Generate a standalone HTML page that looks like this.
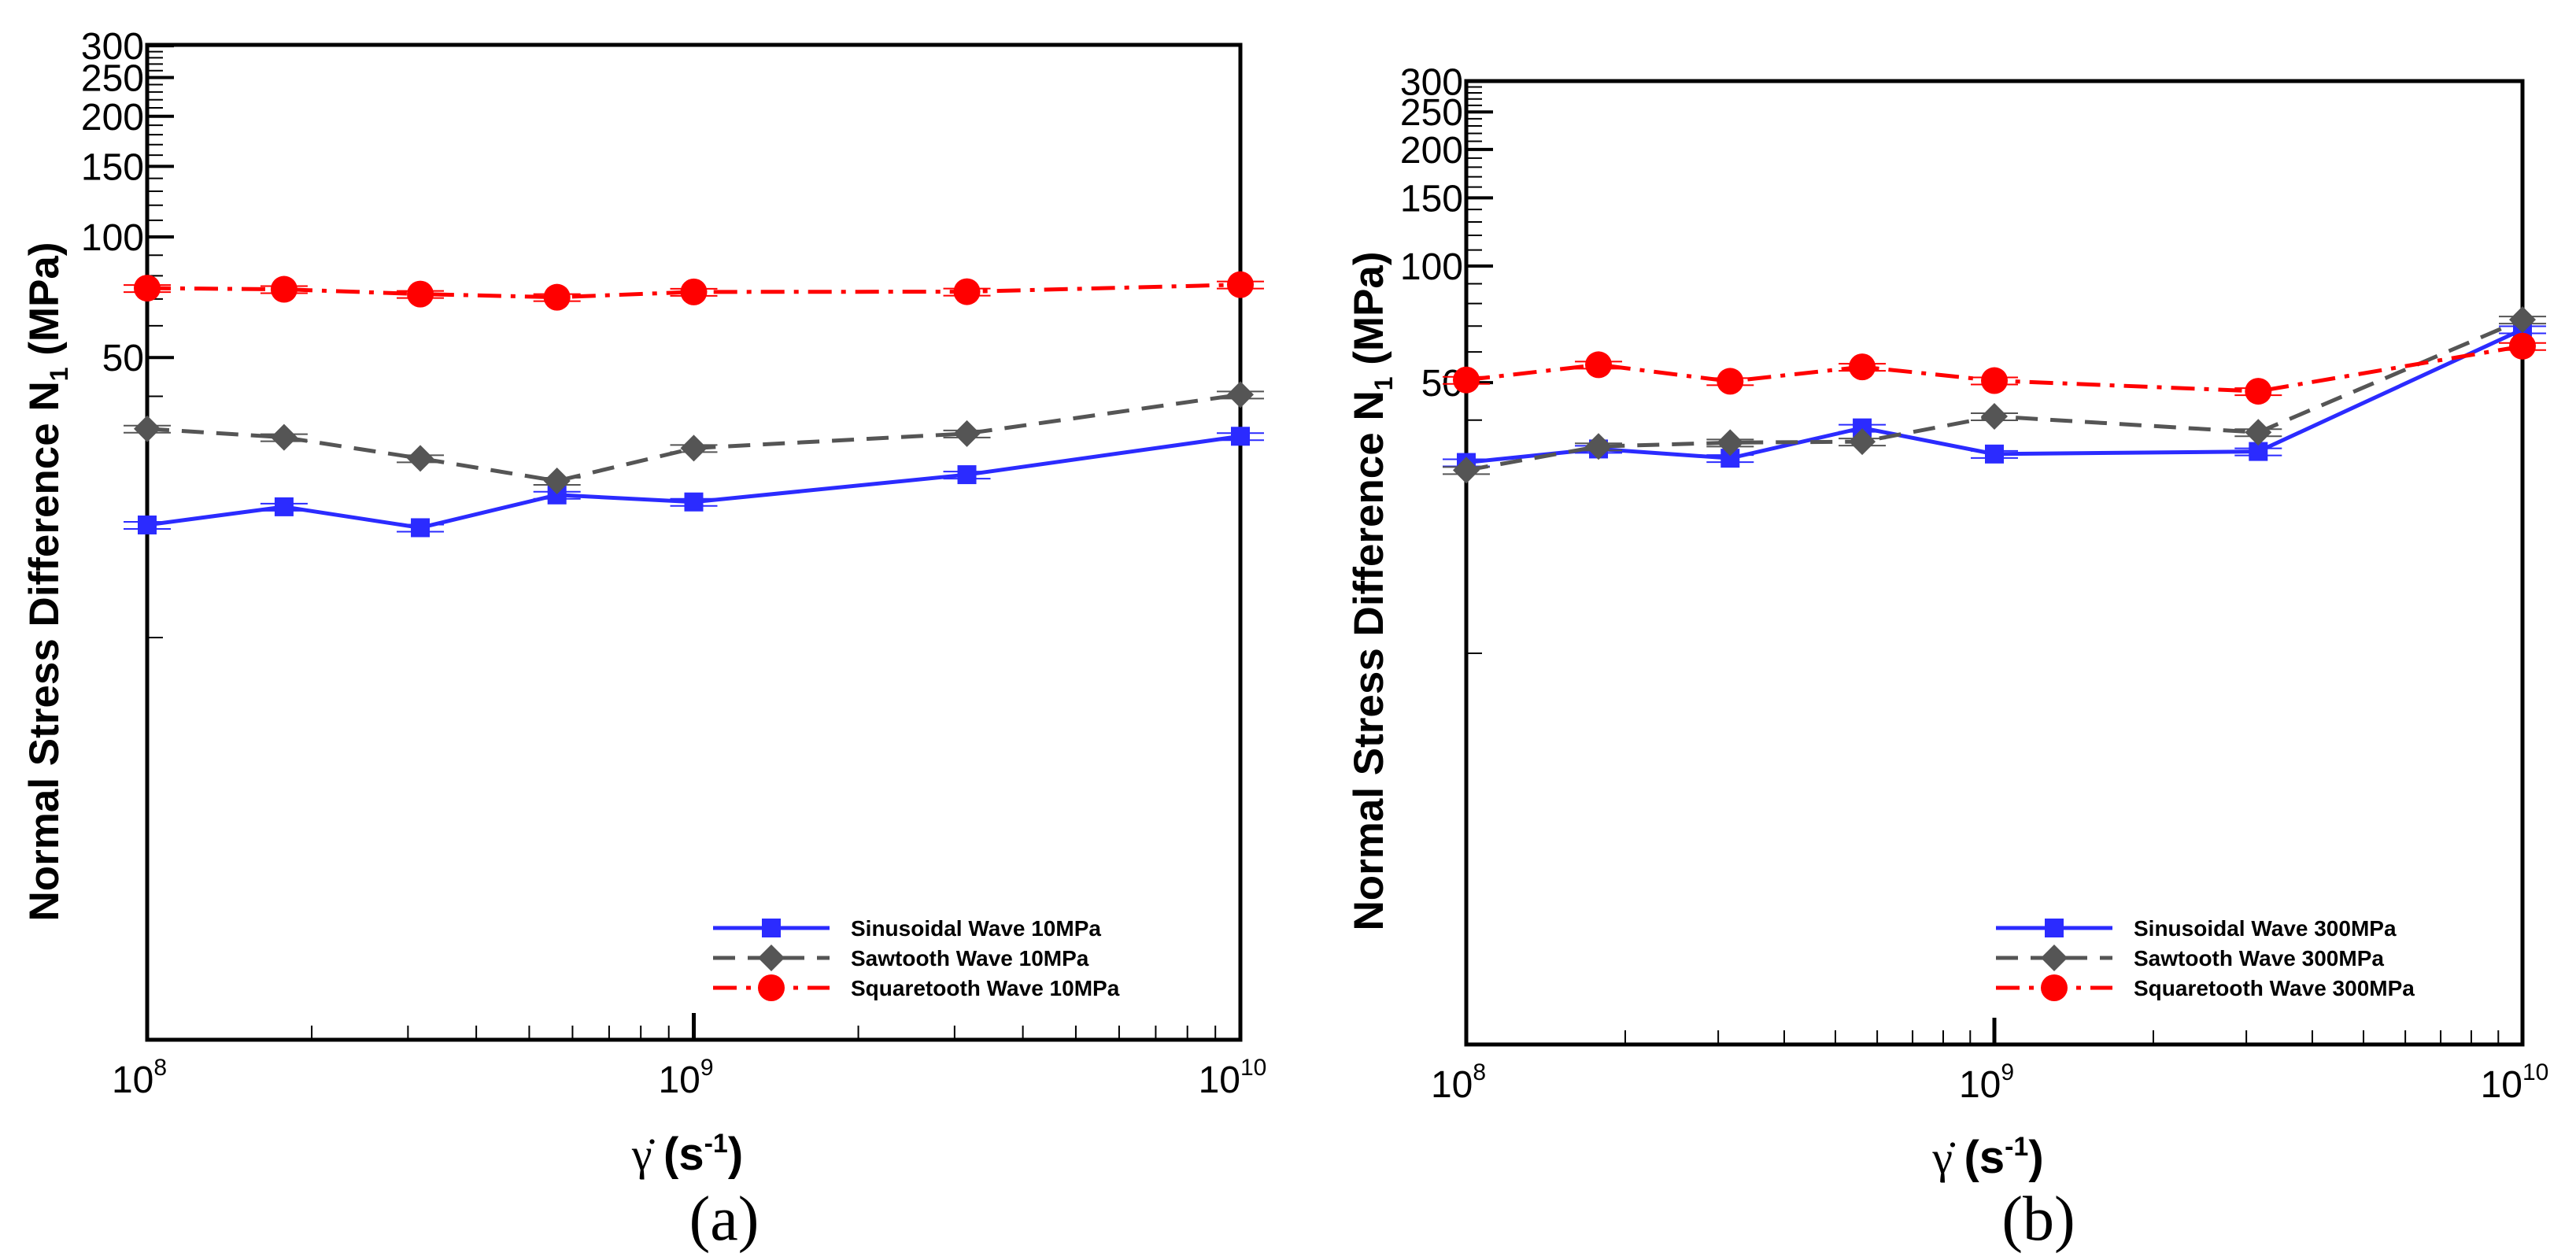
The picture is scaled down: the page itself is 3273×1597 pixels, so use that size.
<!DOCTYPE html>
<html><head><meta charset="utf-8"><style>
html,body{margin:0;padding:0;background:#fff;}
svg{display:block;font-family:"Liberation Sans",sans-serif;}
</style></head><body>
<svg id="fig" width="3273" height="1597" viewBox="0 0 3273 1597" xmlns="http://www.w3.org/2000/svg"></svg>
<script>
const rates = [1e8, 1.78e8, 3.16e8, 5.62e8, 1e9, 3.16e9, 1e10];
const sinA = [19.1, 21.2, 18.8, 22.7, 21.8, 25.5, 31.8];
const sawA = [33.2, 31.6, 28.0, 24.6, 29.7, 32.3, 40.4];
const sqA  = [74.5, 74, 72, 70.7, 72.9, 73, 76];
const sinB = [31.1, 33.7, 31.9, 38.2, 32.7, 33.2, 68.6];
const sawB = [29.7, 34.2, 35.0, 35.2, 40.9, 37.2, 72.7];
const sqB  = [50.8, 55.6, 50.4, 54.9, 50.6, 47.5, 62.1];
const yLabels = [50, 100, 150, 200, 250, 300];
const legendA = ["Sinusoidal Wave 10MPa", "Sawtooth Wave 10MPa", "Squaretooth Wave 10MPa"];
const legendB = ["Sinusoidal Wave 300MPa", "Sawtooth Wave 300MPa", "Squaretooth Wave 300MPa"];

const NS = "http://www.w3.org/2000/svg";
const svg = document.getElementById("fig");
function mk(tag, attrs, parent, text) {
  const e = document.createElementNS(NS, tag);
  for (const k in attrs) e.setAttribute(k, attrs[k]);
  if (text !== undefined) e.textContent = text;
  (parent || svg).appendChild(e);
  return e;
}

function panel(p) {
  const g = mk("g", {});
  
  
  const X = v => p.x8 + (Math.log10(v) - 8) * (p.x10 - p.x8) / 2;
  const Y = v => p.y100 - p.dec * Math.log10(v / 100);
  const fr = mk("rect", {x: p.x8, y: p.top, width: p.x10 - p.x8, height: p.bot - p.top, fill: "none", stroke: "#000", "stroke-width": 5}, g);
  
  
  for (let v = 40; v <= 290; v += 10) {
    if (v % 50 === 0) continue;
    mk("line", {x1: p.x8, x2: p.x8 + 20, y1: Y(v), y2: Y(v), stroke: "#000", "stroke-width": 2}, g);
  }
  mk("line", {x1: p.x8, x2: p.x8 + 20, y1: Y(10), y2: Y(10), stroke: "#000", "stroke-width": 2}, g);
  yLabels.forEach(v => {
    mk("line", {x1: p.x8, x2: p.x8 + 34, y1: Y(v), y2: Y(v), stroke: "#000", "stroke-width": 4}, g);
    const t = mk("text", {x: p.x8 - 4, y: Y(v) + 17, "text-anchor": "end", "font-size": 48}, g, String(v));
    
    
  });
  for (let d = 8; d < 10; d++) {
    for (let m = 2; m <= 9; m++) {
      const x = X(m * Math.pow(10, d));
      mk("line", {x1: x, x2: x, y1: p.bot, y2: p.bot - 18, stroke: "#000", "stroke-width": 2}, g);
    }
  }
  mk("line", {x1: X(1e9), x2: X(1e9), y1: p.bot, y2: p.bot - 34, stroke: "#000", "stroke-width": 5}, g);
  [8, 9, 10].forEach(d => {
    const t = mk("text", {x: X(Math.pow(10, d)) - 10, y: p.bot + 67, "text-anchor": "middle", "font-size": 48}, g);
    
    
    mk("tspan", {}, t, "10");
    mk("tspan", {dy: -22, "font-size": 30}, t, String(d));
  });
  const yt = mk("text", {transform: `translate(${p.ytx},${p.ytc}) rotate(-90)`, "text-anchor": "middle", "font-size": 53, "font-weight": "bold"}, g);
  
  
  mk("tspan", {}, yt, "Normal Stress Difference N");
  mk("tspan", {dy: 12, "font-size": 32}, yt, "1");
  mk("tspan", {dy: -12}, yt, " (MPa)");
  const xt = mk("text", {x: X(1e9) - 8, y: p.xty, "text-anchor": "middle", "font-size": 58, "font-weight": "bold"}, g);
  
  
  mk("tspan", {"font-family": "Liberation Serif, serif", "font-weight": "normal"}, xt, "γ̇ ");
  mk("tspan", {}, xt, "(s");
  mk("tspan", {dy: -22, "font-size": 34}, xt, "-1");
  mk("tspan", {dy: 22}, xt, ")");
  const cap = mk("text", {x: p.capx, y: 1575, "text-anchor": "middle", "font-size": 80, "font-family": "Liberation Serif, serif"}, g, "(" + p.tag + ")");
  
  

  const series = [
    {vals: p.sin, color: "#2b2bff", dash: "", marker: "sq", name: "sinusoidal-series"},
    {vals: p.saw, color: "#555", dash: "28,16", marker: "di", name: "sawtooth-series"},
    {vals: p.sq, color: "#ff0000", dash: "30,12,6,12", marker: "ci", name: "squaretooth-series"}
  ];
  function marker(type, x, y, color, parent) {
    let m;
    if (type === "sq") m = mk("rect", {x: x - 12, y: y - 12, width: 24, height: 24, fill: color}, parent);
    else if (type === "di") m = mk("polygon", {points: `${x},${y - 17} ${x + 17},${y} ${x},${y + 17} ${x - 17},${y}`, fill: color}, parent);
    else m = mk("circle", {cx: x, cy: y, r: 17, fill: color}, parent);
    return m;
  }
  series.forEach(s => {
    const sg = mk("g", {}, g);
    
    
    const pts = rates.map((r, i) => X(r) + "," + Y(s.vals[i])).join(" ");
    mk("polyline", {points: pts, fill: "none", stroke: s.color, "stroke-width": 5, "stroke-dasharray": s.dash}, sg);
    rates.forEach((r, i) => {
      const x = X(r), y = Y(s.vals[i]);
      mk("line", {x1: x - 30, x2: x + 30, y1: y - 4, y2: y - 4, stroke: s.color, "stroke-width": 2}, sg);
      mk("line", {x1: x - 30, x2: x + 30, y1: y + 5, y2: y + 5, stroke: s.color, "stroke-width": 2}, sg);
      const m = marker(s.marker, x, y, s.color, sg);
      
      
    });
  });
  const lg = mk("g", {}, g);
  
  
  series.forEach((s, i) => {
    const y = p.legY + i * p.legDy;
    const eg = mk("g", {}, lg);
    
    
    mk("line", {x1: p.legX, x2: p.legX + 148, y1: y, y2: y, stroke: s.color, "stroke-width": 5, "stroke-dasharray": s.dash}, eg);
    marker(s.marker, p.legX + 74, y, s.color, eg);
    mk("text", {x: p.legX + 175, y: y + 10, "font-size": 28, "font-weight": "bold"}, eg, p.leg[i]);
  });
}

panel({tag: "a", x8: 187, x10: 1576, top: 57, bot: 1321, y100: 301, dec: 509, ytx: 74, ytc: 739, capx: 920, xty: 1486,
  sin: sinA, saw: sawA, sq: sqA, leg: legendA, legX: 906, legY: 1179, legDy: 38});
panel({tag: "b", x8: 1863, x10: 3205, top: 103, bot: 1327, y100: 338, dec: 492, ytx: 1757, ytc: 751, capx: 2590, xty: 1490,
  sin: sinB, saw: sawB, sq: sqB, leg: legendB, legX: 2536, legY: 1179, legDy: 38});
</script>
</body></html>
